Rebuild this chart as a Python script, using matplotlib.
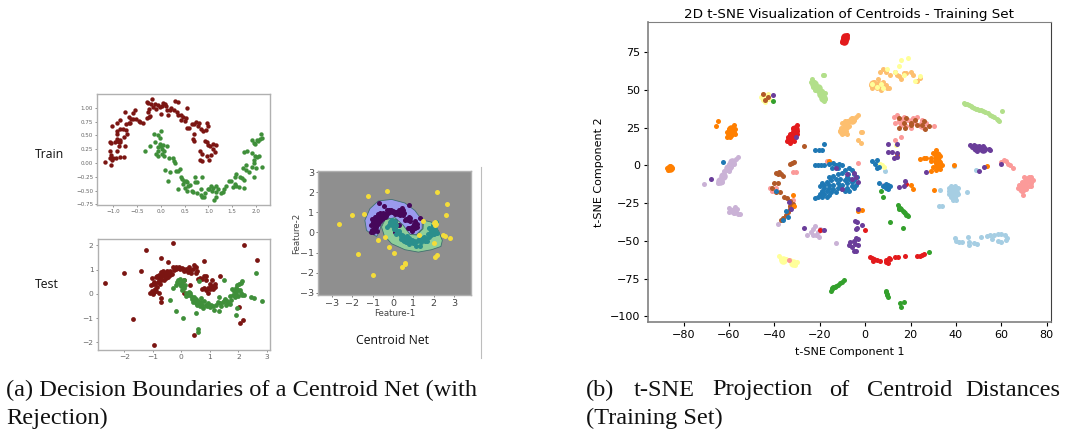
import matplotlib
matplotlib.use("Agg")
import matplotlib.pyplot as plt
import numpy as np
from matplotlib.patches import Polygon

# --- moons, train panel ---
train_red = [(-1.18,0.02),(-1.05,-0.03),(-1.03,0.05),(-1.0,0.08),(-1.06,0.08),(-1.05,0.14),(-1.07,0.21),(-0.94,0.09),(-0.86,0.10),(-0.77,0.11),(-0.93,0.22),
    (-1.05,0.36),(-1.07,0.37),(-0.96,0.38),(-0.93,0.40),(-0.88,0.38),(-0.85,0.42),(-0.85,0.37),(-0.92,0.43),(-0.87,0.31),(-0.76,0.30),(-0.77,0.47),
    (-0.92,0.53),(-0.92,0.58),(-0.85,0.61),(-0.79,0.61),(-0.74,0.60),(-0.71,0.52),(-1.03,0.66),(-0.92,0.72),(-0.85,0.77),(-0.73,0.71),(-0.68,0.72),(-0.64,0.72),
    (-0.63,0.79),(-0.75,0.92),(-0.67,0.84),(-0.58,0.90),(-0.55,0.95),(-0.59,0.80),(-0.52,0.80),(-0.47,0.76),(-0.43,0.74),(-0.37,0.73),(-0.3,0.81),(-0.25,0.84),
    (-0.27,0.93),(-0.25,0.98),(-0.22,0.85),(-0.3,1.11),(-0.27,1.09),(-0.2,1.06),(-0.18,1.16),(-0.16,1.02),(-0.12,1.07),(-0.1,0.97),(-0.07,1.05),(-0.02,1.02),
    (0.0,0.88),(0.02,1.03),(0.05,1.08),(0.08,1.06),(0.1,1.03),(0.13,0.95),(0.16,0.87),(0.2,0.95),(0.22,1.0),(0.27,0.96),(0.3,1.13),(0.33,0.93),(0.37,1.1),
    (0.35,0.87),(0.42,0.87),(0.47,0.83),(0.52,0.82),(0.54,1.0),(0.42,0.78),(0.5,0.76),(0.55,0.63),(0.6,0.64),(0.65,0.7),(0.7,0.7),(0.74,0.74),(0.8,0.72),
    (0.78,0.66),(0.7,0.52),(0.67,0.43),(0.7,0.4),(0.84,0.62),(0.88,0.58),(0.95,0.6),(0.98,0.72),(1.0,0.66),(0.93,0.4),(0.97,0.38),(1.0,0.33),(1.04,0.3),
    (1.1,0.34),(1.15,0.32),(1.1,0.25),(1.13,0.2),(1.05,0.14),(1.02,0.05),(0.98,0.12),(0.82,0.21),(0.87,0.17),(0.82,0.05),(0.86,0.03)]
train_green = [(-0.33,0.22),(-0.22,0.31),(-0.15,0.52),(-0.13,0.38),(-0.05,0.5),(-0.02,0.45),(0.0,0.57),(-0.1,0.17),(-0.07,0.22),(-0.05,0.13),(-0.05,0.28),(-0.02,0.34),
    (0.0,0.31),(0.02,0.25),(0.03,0.16),(0.05,0.32),(0.07,0.22),(0.07,0.12),(0.13,0.3),(0.18,0.09),(0.25,0.09),(0.27,0.04),(0.3,0.0),(0.09,-0.12),(0.14,-0.32),
    (0.2,-0.17),(0.32,-0.14),(0.35,-0.14),(0.4,-0.11),(0.37,-0.47),(0.42,-0.25),(0.45,-0.29),(0.48,-0.32),(0.47,-0.39),(0.52,-0.33),(0.5,-0.45),(0.55,-0.35),
    (0.57,-0.42),(0.55,-0.5),(0.62,-0.4),(0.65,-0.5),(0.68,-0.53),(0.72,-0.26),(0.72,-0.34),(0.75,-0.35),(0.77,-0.55),(0.85,-0.47),(0.85,-0.58),(0.87,-0.62),
    (0.9,-0.62),(0.87,-0.26),(0.93,-0.55),(1.0,-0.47),(1.02,-0.47),(1.05,-0.42),(1.08,-0.5),(1.1,-0.45),(1.12,-0.67),(1.15,-0.62),(1.15,-0.53),(1.15,-0.42),
    (1.2,-0.48),(1.27,-0.55),(1.3,-0.52),(1.33,-0.47),(1.37,-0.42),(1.43,-0.32),(1.48,-0.33),(1.52,-0.44),(1.55,-0.38),(1.58,-0.42),(1.55,-0.25),(1.57,-0.2),
    (1.65,-0.43),(1.67,-0.25),(1.7,-0.27),(1.74,-0.46),(1.75,-0.31),(1.73,-0.1),(1.78,-0.13),(1.8,-0.03),(1.75,0.2),(1.82,0.22),(1.85,-0.17),(1.92,-0.08),
    (1.95,-0.25),(1.92,0.18),(1.95,0.05),(1.95,0.0),(1.97,0.13),(2.0,-0.1),(2.02,0.1),(1.98,0.35),(1.92,0.42),(1.95,0.36),(2.02,0.42),(2.05,0.4),(2.08,0.44),
    (2.1,0.52),(2.12,0.45),(2.12,-0.07),(2.07,0.13)]

# --- moons, test panel ---
test_red_moon = [(-1.1,0.03),(-1.03,0.13),(-1.0,0.0),(-0.97,0.07),(-0.93,0.2),(-0.9,0.12),(-0.85,0.27),(-0.78,0.05),(-1.08,0.38),(-1.0,0.4),(-1.03,0.67),(-0.97,0.5),
    (-0.92,0.42),(-0.9,0.68),(-0.87,0.75),(-0.82,0.5),(-0.8,0.62),(-0.8,0.77),(-0.75,0.4),(-0.73,0.55),(-0.72,0.9),(-0.7,0.68),(-0.68,0.8),(-0.65,0.95),
    (-0.62,0.58),(-0.6,0.72),(-0.58,0.85),(-0.55,0.65),(-0.52,0.8),(-0.5,0.95),(-0.48,0.7),(-0.45,0.85),(-0.4,0.78),(-0.38,0.92),(-0.33,0.8),(-0.3,1.1),(-0.25,0.98),
    (-0.2,1.12),(-0.17,1.02),(-0.13,1.05),(-0.08,1.1),(-0.03,1.03),(0.02,1.07),(0.07,1.03),(0.1,0.93),(0.15,1.02),(0.2,0.98),(0.25,0.9),(0.28,1.1),(0.3,0.98),
    (0.35,0.87),(0.4,1.02),(0.45,1.2),(0.5,0.87),(0.52,1.12),(0.55,0.95),(0.6,0.62),(0.65,0.66),(0.72,0.6),(0.78,0.75),(0.85,0.72),(0.72,0.2),(0.78,0.22),
    (0.85,0.58),(0.88,0.15),(0.92,0.25),(0.95,0.05),(1.0,0.18),(1.02,0.42),(1.05,0.33),(1.08,0.55),(1.1,0.2),(1.13,0.32),(1.17,0.42),(1.18,0.28),(0.32,0.38),(0.1,0.58),(0.08,0.03)]
test_red_outliers = [(-2.67,0.43),(-2.0,0.85),(-1.41,0.93),(-1.25,1.81),(-0.28,2.08),(-0.7,1.46),(-0.46,1.3),(2.19,2.01),(2.66,1.4),(0.8,1.35),(-1.7,-1.05),(-0.97,-2.11),
    (0.43,-1.7),(2.02,-0.53),(2.15,-1.1),(2.07,-1.2),(-0.73,-0.17),(-0.73,-0.35),(1.34,0.74)]
test_green_moon = [(-0.3,0.25),(-0.18,0.38),(-0.15,0.5),(-0.1,0.55),(-0.05,0.4),(-0.03,0.6),(0.0,0.3),(0.02,0.48),(0.03,0.15),(0.05,0.35),(0.08,0.55),(0.1,0.22),(0.13,0.38),
    (0.15,-0.1),(0.18,0.05),(0.22,-0.05),(0.27,0.08),(0.3,0.05),(0.35,-0.1),(0.38,-0.2),(0.4,-0.32),(0.43,-0.13),(0.47,-0.3),(0.5,-0.4),(0.52,-0.2),(0.55,-0.45),
    (0.6,-0.28),(0.62,-0.4),(0.65,-0.5),(0.68,-0.18),(0.7,-0.35),(0.73,-0.48),(0.77,-0.6),(0.8,-0.3),(0.85,-0.45),(0.9,-0.5),(0.95,-0.4),(1.0,-0.55),(1.05,-0.45),
    (1.1,-0.5),(1.15,-0.68),(1.2,-0.45),(1.28,-0.35),(1.33,-0.7),(1.35,-0.4),(1.4,-0.5),(1.45,-0.35),(1.5,-0.3),(1.53,-0.22),(1.57,-0.45),(1.6,-0.3),(1.65,-0.38),
    (1.7,-0.42),(1.72,-0.1),(1.75,-0.25),(1.78,0.2),(1.82,-0.05),(1.85,0.1),(1.88,-0.15),(1.9,0.22),(1.92,0.02),(1.95,0.38),(1.97,0.15),(2.0,-0.1),(2.02,0.4),
    (2.05,0.15),(2.08,0.05),(2.1,0.45),(2.12,0.53),(2.12,-0.05),(2.18,-0.05)]
test_green_outliers = [(-0.38,-0.25),(-0.18,-0.73),(0.05,-0.98),(0.52,-0.78),(0.58,-1.45),(0.6,-1.58),(0.62,0.52),(1.33,-0.12),(1.5,0.58),(1.9,-0.88),(1.95,-0.6),(2.43,-0.15),
    (2.55,-0.18),(2.6,0.87),(2.83,-0.28)]

# --- decision regions, centroid net panel ---
region_blue = [(-1.30,0.10),(-1.38,0.60),(-1.13,1.18),(-0.72,1.56),(-0.07,1.64),(0.59,1.46),(1.08,1.09),(1.44,0.60),(1.44,0.18),(1.16,-0.10),(0.75,-0.10),
    (0.51,0.27),(0.18,0.60),(-0.23,0.68),(-0.56,0.43),(-0.67,0.02),(-0.80,-0.20),(-1.13,-0.03)]
region_green = [(-0.56,0.27),(-0.39,0.63),(0.10,0.73),(0.51,0.35),(0.84,-0.10),(1.16,-0.13),(1.48,0.18),(1.51,0.60),(1.90,0.51),(2.23,0.10),(2.43,-0.40),(2.36,-0.70),
    (1.90,-0.86),(1.25,-0.98),(0.59,-0.86),(-0.07,-0.56),(-0.43,-0.15)]
rejected_pts = [(-2.67,0.43),(-2.0,0.85),(-1.41,0.93),(-1.25,1.81),(-0.28,2.08),(2.19,2.01),(2.66,1.4),(-1.7,-1.05),(-0.97,-2.11),(0.43,-1.7),(2.02,-0.53),(2.15,-1.1),(2.07,-1.2),
    (-0.75,-0.37),(-0.4,-0.25),(-0.2,-0.73),(0.03,-1.0),(1.5,0.58),(1.3,-0.12),(2.02,0.45),(2.05,0.38),(2.08,0.5),(2.1,0.4),(2.45,-0.15),(2.55,-0.2),(2.83,-0.28),
    (0.58,-1.5),(0.6,-1.58),(2.6,0.87)]
accepted_extra = [(-0.7,1.46),(-0.46,1.3),(0.8,1.35),(1.34,0.74)]

# --- t-SNE clusters, one list per colour of the Paired map ---
tsne_light_blue = [(37,-15),(38,-14),(39.5,-13.5),(41,-15),(37,-17),(38.5,-17),(40.5,-17.5),(37,-19),(39,-19.5),(41,-19),(38,-21),(39.5,-21.5),(40,-23),(38.7,-23),(45,-18),
    (32.5,-27),(34,-27),(33,-16.6),(39,-0.5),(49,-3),(8.7,-3.5),(39.5,-48),(40,-50),(41.5,-51),(42.5,-51),(45.4,-47.5),(45.7,-51),(45.7,-53),(48,-51.5),(49.5,-52),
    (51,-47.5),(53.5,-47),(55,-46.5),(56,-48.5),(57,-46),(58.5,-45.7),(60,-45.5),(61.5,-46.5),(62.5,-48),(62,-49.8),(60,-50.5),(58.5,-50)]
tsne_blue = [(-22,10),(-20.5,10),(-19,10),(-18,14),(-22,0),(-21,0.3),(-19.5,0),(-18,0.5),(-16,1),(-14,1.5),(-13,0.5),(-11.5,1),(-10,0),(-14.5,-1.5),(-12,-2),(-9,-3),(-7,-2),(-6,-3),
    (-12,-6),(-10,-5),(-7.5,-6),(-5,-6),(-8,-8),(-14,-7),(-16,-8),(-13,-9),(-11,-9),(-9,-10),(-7,-9),(-5,-10),(-3.5,-8),(-6,-11),(-8,-12),(-10,-13),(-4,-13),
    (-6,-14),(-8,-15),(-10,-16),(-11,-14),(-15,-10),(-17,-11),(-18,-13),(-19,-12),(-16,-13),(-14,-13),(-12,-12),(-20,-14),(-18,-15),(-16,-15),(-14,-16),(-12,-15),
    (-19,-17),(-17,-17),(-15,-18),(-13,-18),(-20,-19),(-18,-19),(-16,-20),(-21,-21),(-19,-21),(-17,-21),(-22,-22),(-9,-17),(-7,-17),(-5,-15),
    (3,3),(5,3.5),(4.5,1),(5,-2),(6,-1),(6,-12),(8,-14),(9,-12.5),(10,-13),(9,-15),(10,-15.5),(11,-14),(-62.6,2.4),(-34,-34),(-39.5,-17),(-35,-30),(-36,-36)]
tsne_light_green = [(-24,55),(-23.5,57),(-22.5,55),(-23,52),(-21.5,52),(-21,49),(-22,50),(-20,47),(-19,45),(-18,42.5),(-17.5,44),(-19,49),(-18.5,60),(-18,59.5),(-17.5,48),
    (43.5,41.5),(44.2,40.8),(45,40.5),(45.8,39.7),(46.5,39),(47.2,38.5),(48,38),(48.8,37.4),(49.5,37),(50.3,36.7),(51,36.5),(52,35.8),(53,35),(54,34.3),(55,33.5),(56,32.7),(57,32),(58,30.8),(58.5,30),(59,29.5),(60.5,36)]
tsne_green = [(-40.8,42.4),(14.5,-26.5),(15,-29),(15.5,-28),(16,-29),(16.5,-30.5),(17,-31),(17.5,-31.5),(18,-33),(18.5,-33),(19,-33.5),(14.7,-28),(11,-37.8),(16.5,-41.4),(8,-21),(7,-17),(28,-57.5),
    (-15,-83),(-14.7,-82),(-14.5,-81),(-14,-80.7),(-13.5,-80.5),(-12.7,-79.7),(-12,-79),(-11,-78),(-10,-77),(-9.4,-75.8),(9,-83.3),(9.2,-84),(9.5,-85),(9.8,-86),(10,-87),(15.5,-91),(17,-90.5),(16,-94)]
tsne_pink = [(-31.7,-4.4),(-30.5,-4.4),(-42,-15),(-41,-17),(-39.5,-15),(-33,-27),(-32,-23),(-33.4,-62.5),(12.5,32),(14,33),(13,28),(15,30),(17,32),(19,30),(21,31),(23,32),
    (25,30),(27,28),(18,26),(20,25),(16,27),(24,27),(26,25),(13,17),(16,19),(30.4,26.3),(-16.6,3),(-3,1.3),(60,2),(61,3.5),(62,3),(63,1),(64,0),(65,-1.5),
    (70,-8),(72,-7.5),(73,-8),(74,-10),(71,-10),(69,-11),(73,-12),(70,-13),(72,-14),(68,-13),(70,-15),(67.5,-15),(69,-17),(71,-16),(69.5,-19.5),(73,-14),(68.5,-15)]
tsne_red = [(-10,81.5),(-9.7,82.5),(-9.3,83.5),(-9,84.5),(-8.5,85.5),(-8.2,86),(-9.5,81.8),(-8.8,83),(-8.3,84.5),(-8.9,85.5),(-9.8,83.5),
    (-30,27),(-30.5,25),(-31,23),(-32,25),(-32,22),(-30,21),(-33,21),(-34,19),(-31,19),(-30,23),(-33,17),(-31.5,16),(-34.5,16),(-33,14.5),(-32,18),
    (2,-61),(3,-61.5),(4,-62),(3.5,-63.5),(5,-63),(6.5,-63.5),(9,-62.5),(9,-64),(10,-65),(10.5,-61.5),(11,-62),(13,-61),(14.5,-61),(17.5,-60),(23,-60.3),(24,-60),(25,-59.5),(26,-58.6),
    (-20,-43),(0,-43),(18,-12.5)]
tsne_light_orange = [(2.5,53),(3,51),(4,55),(4.5,53),(5,51),(5.5,57),(6,54),(7,52),(7,50),(8,55),(9,53),(9.5,51),(10.5,51),(6.5,62),(8,64),(9,62),(11,60),(13,62),(15,59),(16,57),
    (14,60),(17,61),(18,61),(20,62),(21,60),(24,58),(23,56),(-3,33),(-4,32),(-6,31),(-7,29),(-8,29),(-9,29),(-5,30),(-10,28),(-9,26),(-7,26),(-10.5,25),(-8.5,23),(-10,21),
    (-11,23),(-8,20.5),(-9.5,21.5),(-2,22),(-1.5,22),(-3,17),(-2,15)]
tsne_orange = [(-86.5,-2.5),(-85.5,-1),(-87.5,-2),(-86,-0.5),(-85,-1.5),(-87,-3),(-65,29),(-65.9,26),(-58,27),(-57.5,24),(-60,24),(-58,22),(-61,22),(-59,20),(-61,19),(-59.5,18.5),(-57.5,21),
    (31,10),(30,8),(29,5),(31,5),(33,6),(29,3),(31,2),(33,2),(30,-1),(32,-1),(34,0),(31,-3),(33,-2.5),(24,4),(26,4.5),(27,5),(39,0),(53.8,-0.2),(29,-4),(14,7),(-1.6,-29.5),(-3,-30.5),
    (-32,-20),(-31.5,-27),(30.5,-16.6),(20,-13),(21,-15.5),(-16,3)]
tsne_lavender = [(-56,5.5),(-57,4),(-59,3),(-58,1),(-60,1),(-60.5,-1),(-59,-1),(-61,-3),(-62,-4),(-60,-4),(-62,-6),(-63,-8),(-64,-10),(-65,-12),(-63,-11),(-71,-12.6),(-60,-28),(-59,-30),
    (-57.5,-27.6),(-56.5,-29),(-55,-32),(-58,-31.5),(-56,-32),(-38.5,-38.8),(-22,-40),(-23,-42),(-24,-44),(-25.5,-46),(-23,-46),(-21.5,-46.5),(-21,-44),(-20,-42.5),(-20.5,-47.5),(-19,-43),
    (-13,-51.5),(8,-13),(-62,-6.5),(-60,-31)]
tsne_purple = [(-40.7,46.6),(-68,-9),(-30.6,18.5),(-33.5,-24),(-32.5,-29),(-26.8,-41.3),(46,13.5),(47,12),(48,13.5),(49,11),(50,13),(51,11),(52,12.5),(53,10.5),(54.5,11),(55,10),(49.5,9.5),
    (10,14),(14,14),(10,9),(12,8.5),(14,8),(14,5.5),(12.5,5),(27,-4.2),(50,-4),(52.4,-1),(60,1),(-13,-2),(-8,-6),(-5,-5),(-4,-8),(-6,-9),(-3,-11),(-10,-16),(17,-14),(17.5,-10.4),
    (15,-14.5),(-3,-28.7),(-4.5,-37),(-3.5,-37.5),(-1.6,-39.3),(-4,-42.4),(-3.5,-41.5),(-4,-48),(-3,-49),(-5,-50),(-6.5,-51),(-4.5,-52),(-7,-53),(-6,-54),(-3,-53),(-5,-57),(-4,-57),(-18,-43)]
tsne_yellow = [(-46,45),(-45,47),(-44,45),(-45,43),(-43,47),(-42.5,44),(-44,42),(-38,-60.3),(-37,-62),(-35,-62),(-36,-63),(-33,-63),(-32,-64),(-31,-65),(-30,-64),(-31,-66),(9.5,64),(13,62),(15,66),(16,70),
    (17,60),(19,71),(24,59),(22,56),(5,52),(3,54),(7,54),(8,51),(13.5,13.5),(6.5,1),(7.5,0),(8.5,-1)]
tsne_brown = [(-32.4,1.5),(-31.5,2),(-33,1),(-39.5,-5),(-38,-4.5),(-37,-6),(-36,-7),(-38.5,-6),(-26.8,13),(-45,47),(-44,43.5),(-42.8,45),(-40,-12),(-38.5,-12),(-41,-15),(-39.5,-17.5),(-37.5,-18),
    (-35.6,-21),(-34.5,-22),(-33,-23.5),(-31.7,-25.4),(-33,-27),(-33,-29),(-34,-31),(-35,-33),(-36,-35),(-37,-36.5),(15,31),(17,28),(18,31),(20,28),(15,25),(22,30),(23,27),(25,27),(26,29),(28,26),
    (26.5,24),(17.5,25),(20,26.5)]

# solid middles of the dense blobs
core_light_green = [(-22.5,54),(-21,51),(-19.5,47.5),(-18.5,44.5)]
core_red = [(-31,24),(-32,20),(-33,17.5)]
core_orange = [(-59,24),(-59.5,21),(31.5,7),(31.5,3),(32,0),(-86,-1.5)]
core_light_orange = [(-6,30),(-8.5,26),(-10,22.5),(6,53),(3.5,54)]
core_pink = [(71.5,-10),(70,-13),(69,-16),(16,29),(21,29),(25,27)]
core_light_blue = [(39,-16),(39,-20)]
core_lavender = [(-58.5,2),(-60.5,-2),(-62.5,-7),(-64,-10.5),(-58,-30)]
core_purple = [(49,11.5),(52,11)]
core_yellow = [(-44.5,45),(-36,-62.5),(-32,-64.5)]
core_top_red = [(-9,84),(-9.5,82.5),(-8.7,85)]

SHADES = {"red": "#7b1512", "green": "#3f8f3a", "purple": "#46075a", "teal": "#2a8f8c", "yellow": "#f4dc3a"}


def add_panel(fig, left, top, right, bottom):
    # position given in pixels of the 1065x434 picture
    return fig.add_axes([left / 1065, 1 - bottom / 434, (right - left) / 1065, (bottom - top) / 434])


def style_blurry(ax, size, tick_color="#666666"):
    for s in ax.spines.values():
        s.set_color("#b0b0b0")
        s.set_linewidth(1.0)
    ax.tick_params(labelsize=size, colors=tick_color, length=1.5, width=0.5, pad=1.5)


def dots(ax, pts, color, size, **kw):
    arr = np.array(pts)
    ax.scatter(arr[:, 0], arr[:, 1], s=size, color=color, linewidths=0, **kw)


fig = plt.figure(figsize=(10.65, 4.34), dpi=100)

# --- train ---
ax = add_panel(fig, 97.3, 93.7, 270, 205.3)
dots(ax, train_red, SHADES["red"], 10)
dots(ax, train_green, SHADES["green"], 10)
ax.set_xlim(-1.336, 2.294)
ax.set_ylim(-0.768, 1.254)
ax.set_xticks(np.arange(-1, 2.01, 0.5))
ax.set_xticklabels(["−1.0", "−0.5", "0.0", "0.5", "1.0", "1.5", "2.0"])
ax.set_yticks(np.arange(-0.75, 1.01, 0.25))
ax.set_yticklabels(["−0.75", "−0.50", "−0.25", "0.00", "0.25", "0.50", "0.75", "1.00"])
style_blurry(ax, 4.1)

# --- test ---
ax = add_panel(fig, 97.7, 238.7, 270.3, 350.3)
dots(ax, test_red_moon + test_red_outliers, SHADES["red"], 12)
dots(ax, test_green_moon + test_green_outliers, SHADES["green"], 12)
ax.set_xlim(-2.93, 3.116)
ax.set_ylim(-2.33, 2.27)
ax.set_xticks(range(-2, 4))
ax.set_yticks(range(-2, 3))
style_blurry(ax, 5.4)

# --- centroid net ---
ax = add_panel(fig, 318.3, 171, 471, 295)
ax.set_facecolor("#8f8f8f")
ax.add_patch(Polygon(region_blue, closed=True, facecolor="#9a9aee", edgecolor="#3f6f6f", linewidth=0.6))
ax.add_patch(Polygon(region_green, closed=True, facecolor="#8fce9a", edgecolor="#3f6f6f", linewidth=0.6))
dots(ax, test_red_moon + accepted_extra, SHADES["purple"], 13)
dots(ax, test_green_moon, SHADES["teal"], 13)
dots(ax, rejected_pts, SHADES["yellow"], 13)
ax.set_xlim(-3.67, 3.84)
ax.set_ylim(-3.11, 3.05)
ax.set_xticks(range(-3, 4))
ax.set_yticks(range(-3, 4))
ax.set_xlabel("Feature-1", fontsize=6.2, color="#444444", labelpad=0.5)
ax.set_ylabel("Feature-2", fontsize=6.2, color="#444444", labelpad=-1)
style_blurry(ax, 6.8, "#444444")

# --- t-SNE ---
ax = add_panel(fig, 648, 22, 1051, 322)
clusters = [(tsne_light_blue, core_light_blue, "#a6cee3"), (tsne_light_green, core_light_green, "#b2df8a"),
            (tsne_light_orange, core_light_orange, "#fdbf6f"), (tsne_lavender, core_lavender, "#cab2d6"),
            (tsne_yellow, core_yellow, "#ffff99"), (tsne_pink, core_pink, "#fb9a99"), (tsne_brown, None, "#b15928"),
            (tsne_orange, core_orange, "#ff7f00"), (tsne_red, core_red + core_top_red, "#e31a1c"),
            (tsne_green, None, "#33a02c"), (tsne_blue, None, "#1f78b4"), (tsne_purple, core_purple, "#6a3d9a")]
for pts, core, c in clusters:
    if core is not None:
        dots(ax, core, c, 38)
    dots(ax, pts, c, 13)
ax.set_xlim(-95.7, 81.9)
ax.set_ylim(-103.8, 94.9)
ax.set_xticks(range(-80, 81, 20))
ax.set_yticks(range(-100, 76, 25))
ax.tick_params(labelsize=8, length=3, width=0.8, pad=2.5)
ax.set_xlabel("t-SNE Component 1", fontsize=8, labelpad=5)
ax.set_ylabel("t-SNE Component 2", fontsize=8, labelpad=4)
ax.set_title("2D t-SNE Visualization of Centroids - Training Set", fontsize=9.7, pad=3)
for side in ["left", "bottom"]:
    ax.spines[side].set_color("#808080")
    ax.spines[side].set_linewidth(1.2)
ax.spines["top"].set_color("#808080")
ax.spines["right"].set_color("#404040")

# --- labels and captions ---
for label, x, y in [("Train", 35, 154), ("Test", 35, 284), ("Centroid Net", 356, 341)]:
    fig.text(x / 1065, 1 - y / 434, label, fontsize=8.8, family="Open Sans", va="center", color="#111111")
fig.add_artist(plt.Line2D([481 / 1065, 481 / 1065], [1 - 167 / 434, 1 - 358 / 434], color="#bdbdbd", linewidth=0.8))

CAP = dict(fontsize=17.6, family="Liberation Serif", va="center", color="#111111")
fig.text(6 / 1065, 1 - 390 / 434, "(a) Decision Boundaries of a Centroid Net (with", **CAP)
fig.text(6 / 1065, 1 - 418 / 434, "Rejection)", **CAP)
for word, x in [("(b)", 586), ("t-SNE", 634), ("Projection", 712), ("of", 829), ("Centroid", 867), ("Distances", 965)]:
    fig.text(x / 1065, 1 - 390 / 434, word, **CAP)
fig.text(586 / 1065, 1 - 418 / 434, "(Training Set)", **CAP)

fig.savefig("out.png", dpi=100)
